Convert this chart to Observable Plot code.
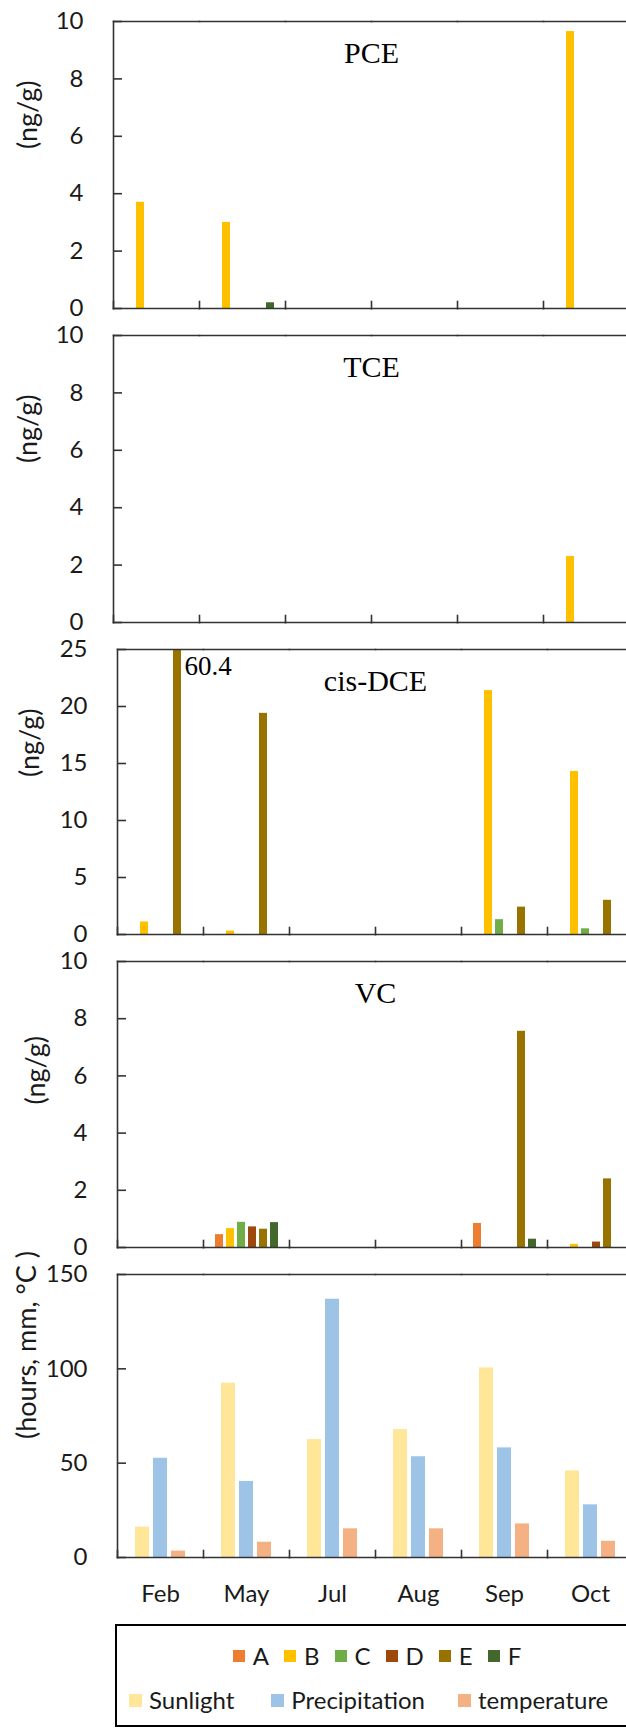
<!DOCTYPE html>
<html><head><meta charset="utf-8">
<script src="https://cdn.jsdelivr.net/npm/d3@7"></script>
<script src="https://cdn.jsdelivr.net/npm/@observablehq/plot@0.6"></script>
<style>
html,body{margin:0;padding:0;background:#fff;overflow:hidden;}
#wrap{position:relative;width:626px;height:1729px;overflow:hidden;font-family:Lato,sans-serif;}
.panel{position:absolute;left:0;}
.panel svg{max-width:none !important;overflow:visible;}
#legend{position:absolute;left:115px;top:1624px;width:524px;height:103px;border:2px solid #000;box-sizing:border-box;font-family:Lato,sans-serif;font-size:24px;color:#1a1a1a;}
.row{position:absolute;left:0;right:0;display:flex;align-items:center;line-height:24px;height:24px;}
.r1{top:18px;justify-content:center;}
.r2{top:62px;justify-content:flex-start;padding-left:12px;}
.it{display:flex;align-items:center;}
.sw{display:inline-block;width:13px;height:13px;margin-right:7px;}
</style></head>
<body><div id="wrap"></div>
<script>
// ---- data ----
const months = ["Feb", "May", "Jul", "Aug", "Sep", "Oct"];
const sites = ["A", "B", "C", "D", "E", "F"];
// rows: sites A–F, columns: months (ng/g)
const PCE = [
  [0, 0, 0, 0, 0, 0],
  [3.7, 3.0, 0, 0, 0, 9.65],
  [0, 0, 0, 0, 0, 0],
  [0, 0, 0, 0, 0, 0],
  [0, 0, 0, 0, 0, 0],
  [0, 0.2, 0, 0, 0, 0]
];
const TCE = [
  [0, 0, 0, 0, 0, 0],
  [0, 0, 0, 0, 0, 2.3],
  [0, 0, 0, 0, 0, 0],
  [0, 0, 0, 0, 0, 0],
  [0, 0, 0, 0, 0, 0],
  [0, 0, 0, 0, 0, 0]
];
const cisDCE = [
  [0, 0, 0, 0, 0, 0],
  [1.1, 0.3, 0, 0, 21.4, 14.3],
  [0, 0, 0, 0, 1.3, 0.5],
  [0, 0, 0, 0, 0, 0],
  [60.4, 19.4, 0, 0, 2.4, 3.0],
  [0, 0, 0, 0, 0, 0]
];
const VC = [
  [0, 0.45, 0, 0, 0.84, 0],
  [0, 0.66, 0, 0, 0, 0.11],
  [0, 0.88, 0, 0, 0, 0],
  [0, 0.72, 0, 0, 0, 0.19],
  [0, 0.64, 0, 0, 7.56, 2.4],
  [0, 0.87, 0, 0, 0.29, 0]
];
const meteoSeries = ["Sunlight", "Precipitation", "temperature"];
const sunlight = [16.1, 92.4, 62.5, 67.8, 100.5, 45.9];
const precipitation = [52.6, 40.3, 136.9, 53.4, 58.1, 27.9];
const temperature = [3.4, 8.1, 15.2, 15.2, 17.8, 8.6];
const chemTicks = [0, 2, 4, 6, 8, 10];
const dceTicks = [0, 5, 10, 15, 20, 25];
const meteoTicks = [0, 50, 100, 150];

// ---- styles ----
const siteColors = ["#ED7D31", "#FFC000", "#70AD47", "#9E480E", "#997300", "#43682B"];
const meteoColors = ["#FFE699", "#9DC3E6", "#F4B183"];
const AX = "#333333";
const TXT = "#1a1a1a";

function toRows(matrix, names) {
  const out = [];
  matrix.forEach((vals, i) => vals.forEach((v, j) => out.push({series: names[i], month: months[j], value: v})));
  return out;
}

function drawPanel(cfg) {
  const W = 640;
  const {rows, series, colors, yMax, yTicks, yLabel, title, top, innerH, marginLeft, facetW,
         marginBottom, labelDx, labelDy, xLabels, padInner, padOuter, annotate} = cfg;
  const marginTop = 20;
  const marginRight = W - marginLeft - 6 * facetW;
  const marks = [
    Plot.barY(rows, {fx: "month", x: "series", y: "value", fill: "series"}),
    Plot.frame({anchor: "top", stroke: AX, strokeWidth: 1.6}),
    Plot.frame({anchor: "bottom", stroke: AX, strokeWidth: 1.6}),
    Plot.frame({anchor: "left", insetTop: innerH - 7, stroke: AX, strokeWidth: 1.6}),
    Plot.frame({anchor: "left", facetAnchor: "left", stroke: AX, strokeWidth: 1.6}),
    Plot.axisY({ticks: yTicks, tickSize: -9, tickPadding: 39, tickFormat: d => String(d), label: null,
                fontSize: 24, stroke: AX, strokeWidth: 1.6, fill: TXT}),
    Plot.text([yLabel], {frameAnchor: "left", facetAnchor: "left", rotate: -90, dx: labelDx, dy: labelDy,
                         fontSize: 27, fill: TXT, fontFamily: "Lato"})
  ];
  if (title) marks.push(Plot.text([title], {fx: () => "Aug", frameAnchor: "top-left", textAnchor: "middle",
      lineAnchor: "bottom", dy: 41, fontFamily: "Liberation Serif", fontSize: 30, fill: "#000"}));
  if (annotate) marks.push(Plot.text(rows.filter(d => d.value > yMax), {fx: "month", x: "series",
      y: d => Math.min(d.value, yMax), text: d => String(d.value), textAnchor: "start", lineAnchor: "top",
      dx: 7, dy: 6, fontFamily: "Liberation Serif", fontSize: 27, fill: "#000"}));
  if (xLabels) marks.push(Plot.axisFx({anchor: "bottom", tickSize: 0, tickPadding: 27, label: null, fontSize: 24, fill: TXT}));
  const svg = Plot.plot({
    width: W, height: marginTop + innerH + marginBottom,
    marginLeft, marginRight, marginTop, marginBottom,
    style: {fontFamily: "Lato", color: TXT, background: "transparent", overflow: "visible", maxWidth: "none"},
    fx: {domain: months, padding: 0, axis: xLabels ? undefined : null},
    x: {domain: series, paddingInner: padInner, paddingOuter: padOuter, axis: null},
    y: {domain: [0, yMax], clamp: true},
    color: {domain: series, range: colors},
    marks
  });
  const div = document.createElement("div");
  div.className = "panel";
  div.style.top = (top - marginTop) + "px";
  div.appendChild(svg);
  document.getElementById("wrap").appendChild(div);
}

const chemCommon = {series: sites, colors: siteColors, padInner: 0.3, padOuter: 0.9, marginBottom: 12};
drawPanel({...chemCommon, rows: toRows(PCE, sites), yMax: 10, yTicks: chemTicks, yLabel: "(ng/g)", title: "PCE",
  top: 21, innerH: 287, marginLeft: 112, facetW: 86.3, labelDx: -85, labelDy: -16});
drawPanel({...chemCommon, rows: toRows(TCE, sites), yMax: 10, yTicks: chemTicks, yLabel: "(ng/g)", title: "TCE",
  top: 335, innerH: 287, marginLeft: 112, facetW: 86.3, labelDx: -85, labelDy: -16});
drawPanel({...chemCommon, rows: toRows(cisDCE, sites), yMax: 25, yTicks: dceTicks, yLabel: "(ng/g)", title: "cis-DCE",
  top: 649, innerH: 285, marginLeft: 116, facetW: 86.4, labelDx: -87, labelDy: -15, annotate: true});
drawPanel({...chemCommon, rows: toRows(VC, sites), yMax: 10, yTicks: chemTicks, yLabel: "(ng/g)", title: "VC",
  top: 961, innerH: 286, marginLeft: 116, facetW: 86.4, labelDx: -81, labelDy: 0});
drawPanel({rows: toRows([sunlight, precipitation, temperature], meteoSeries), series: meteoSeries, colors: meteoColors,
  padInner: 0.24, padOuter: 0.9, marginBottom: 60, yMax: 150, yTicks: meteoTicks, yLabel: "(hours, mm, °C )",
  title: null, top: 1274, innerH: 283, marginLeft: 116, facetW: 86.4, labelDx: -90, labelDy: 23, xLabels: true});

// ---- legend ----
const legend = document.createElement("div");
legend.id = "legend";
const r1 = document.createElement("div");
r1.className = "row r1";
sites.forEach((s, i) => {
  const it = document.createElement("span");
  it.className = "it";
  it.style.marginRight = i < sites.length - 1 ? "15px" : "0";
  it.innerHTML = `<span class="sw" style="background:${siteColors[i]};width:12px;height:12px;margin-right:8px"></span>${s}`;
  r1.appendChild(it);
});
const r2 = document.createElement("div");
r2.className = "row r2";
meteoSeries.forEach((s, i) => {
  const it = document.createElement("span");
  it.className = "it";
  it.style.marginRight = i === 0 ? "37px" : "33px";
  it.innerHTML = `<span class="sw" style="background:${meteoColors[i]}"></span>${s}`;
  r2.appendChild(it);
});
legend.appendChild(r1);
legend.appendChild(r2);
document.getElementById("wrap").appendChild(legend);
</script>
</body></html>
